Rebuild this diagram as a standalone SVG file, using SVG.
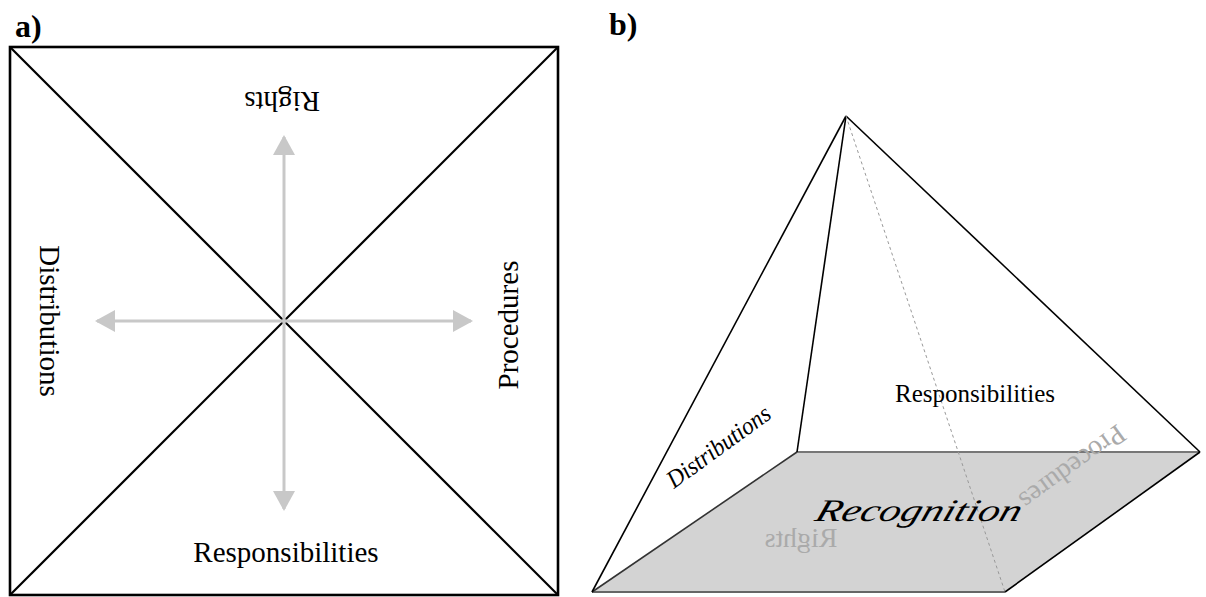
<svg xmlns="http://www.w3.org/2000/svg" width="1206" height="597" viewBox="0 0 1206 597">
<style>
.lbl{font-family:"Liberation Serif",serif;font-weight:bold;font-size:32px;fill:#000}
.ta{font-family:"Liberation Serif",serif;font-size:29px;fill:#000;text-anchor:middle}
.tb{font-family:"Liberation Serif",serif;fill:#000;text-anchor:middle}
.tg{font-family:"Liberation Serif",serif;fill:#aaaaaa;text-anchor:middle}
.arr{stroke:#c8c8c8;stroke-width:3;fill:none}
.diag{stroke:#000;stroke-width:2.2;fill:none}
.edge{stroke:#000;stroke-width:1.6;fill:none}
</style>
<defs>
<marker id="ah" viewBox="0 0 20 22" refX="18" refY="11" markerWidth="20" markerHeight="22" markerUnits="userSpaceOnUse" orient="auto">
<path d="M0,0 L20,11 L0,22 Z" fill="#c8c8c8"/>
</marker>
</defs>
<rect width="1206" height="597" fill="#fff"/>
<text class="lbl" x="15" y="37">a)</text>
<text class="lbl" x="609" y="35">b)</text>
<g id="panel-a">
<rect x="10" y="47" width="548" height="548" fill="#fff" stroke="#000" stroke-width="2.6"/>
<g id="connectors-a">
<line class="diag" x1="10" y1="47" x2="558" y2="595"/>
<line class="diag" x1="558" y1="47" x2="10" y2="595"/>
<line class="arr" x1="284" y1="321" x2="284" y2="137" marker-end="url(#ah)"/>
<line class="arr" x1="284" y1="321" x2="284" y2="509" marker-end="url(#ah)"/>
<line class="arr" x1="284" y1="321" x2="97" y2="321" marker-end="url(#ah)"/>
<line class="arr" x1="284" y1="321" x2="471" y2="321" marker-end="url(#ah)"/>
</g>
<g id="a-rights"><text class="ta" transform="translate(282,92) rotate(180)">Rights</text></g>
<g id="a-responsibilities"><text class="ta" x="286" y="562">Responsibilities</text></g>
<g id="a-distributions"><text class="ta" transform="translate(40,321) rotate(90)">Distributions</text></g>
<g id="a-procedures"><text class="ta" transform="translate(518,325) rotate(-90)">Procedures</text></g>
</g>
<g id="panel-b">
<polygon id="base" points="592,592 797,452 1200,452 1005,592" fill="#d3d3d3"/>
<g id="connectors-b">
<line x1="797" y1="452" x2="1200" y2="452" stroke="#777" stroke-width="1.8"/>
<line x1="592" y1="592" x2="1005" y2="592" stroke="#666" stroke-width="2.2"/>
<line class="edge" x1="592" y1="592" x2="797" y2="452" style="stroke:#333"/>
<line class="edge" x1="1200" y1="452" x2="1005" y2="592"/>
<line class="edge" x1="846" y1="116" x2="592" y2="592"/>
<line class="edge" x1="846" y1="116" x2="797" y2="452"/>
<line class="edge" x1="846" y1="116" x2="1200" y2="452"/>
<line x1="846" y1="116" x2="1005" y2="592" stroke="#999" stroke-width="1" stroke-dasharray="3,3"/>
</g>
<g id="b-distributions"><text class="tb" style="font-style:italic;text-anchor:start;font-size:25px" transform="translate(674,489) rotate(-36)" textLength="122" lengthAdjust="spacingAndGlyphs">Distributions</text></g>
<g id="b-responsibilities"><text class="tb" style="font-size:25px" x="975" y="402" textLength="160" lengthAdjust="spacingAndGlyphs">Responsibilities</text></g>
<g id="b-procedures"><text class="tg" style="font-size:28px" transform="translate(1067,460) rotate(144)" textLength="124" lengthAdjust="spacingAndGlyphs">Procedures</text></g>
<g id="b-rights"><text class="tg" style="font-size:27px" transform="translate(801,547) scale(-1,1)" textLength="73" lengthAdjust="spacingAndGlyphs">Rights</text></g>
<g id="b-recognition"><text class="tb" style="font-style:italic;font-size:42px" transform="translate(916,521) scale(1,0.75) skewX(-14)" textLength="205" lengthAdjust="spacingAndGlyphs">Recognition</text></g>
</g>
</svg>
